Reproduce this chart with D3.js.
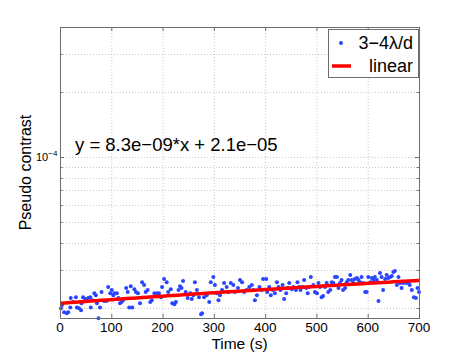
<!DOCTYPE html>
<html>
<head>
<meta charset="utf-8">
<script src="https://cdn.jsdelivr.net/npm/d3@7"></script>
<style>
  body { margin: 0; background: #fff; }
  text { font-family: "Liberation Sans", Arial, sans-serif; }
</style>
</head>
<body>
<svg id="chart"></svg>
<script>
// measured points: time (s) and pseudo contrast (in units of 1e-5)
const times = [2,4,8,13,16,20,21,26,31,33,37,41,42,45,49,52,55,59,60,63,67,70,72,75,78,81,86,91,94,98,
  101,104,106,111,114,117,120,123,129,132,135,138,141,145,148,152,156,160,164,167,171,176,179,184,189,193,197,199,
  203,208,211,216,219,223,226,231,234,237,240,245,249,254,257,260,263,267,271,275,277,281,286,291,294,299,
  302,306,309,312,316,320,325,328,333,338,341,347,351,355,359,364,369,374,377,380,384,389,393,396,
  402,404,408,411,415,419,423,426,430,434,437,441,444,447,452,455,460,463,466,469,473,476,480,483,486,489,494,497,
  501,504,507,510,513,517,520,523,527,530,533,536,540,543,546,549,552,556,559,562,566,569,572,575,579,582,585,588,591,595,598,
  601,605,608,611,614,618,621,624,627,630,634,637,640,644,647,650,653,657,660,663,666,669,673,676,679,682,686,690,694,697,700];
const contrastE5 = [1.99,2.06,1.91,1.89,1.91,2.01,2.22,2.13,2.24,2.01,1.99,1.95,2.10,2.24,2.20,2.15,2.22,2.24,2.01,2.17,2.34,2.29,2.10,1.79,2.01,2.37,2.15,2.15,2.50,2.34,
  2.42,2.29,2.34,2.34,2.22,2.10,2.13,2.17,2.47,2.37,2.01,2.52,2.01,2.44,2.37,2.34,2.10,2.63,2.55,2.37,2.42,2.13,2.17,2.34,2.34,2.34,2.24,2.50,
  2.72,2.63,2.37,2.44,2.10,2.08,2.13,2.42,2.52,2.47,2.66,2.37,2.22,2.34,2.20,2.29,2.63,2.42,2.24,1.87,1.89,2.24,2.29,2.13,2.63,2.78,
  2.55,2.34,2.17,2.29,2.42,2.61,2.50,2.37,2.61,2.55,2.37,2.47,2.69,2.63,2.37,2.42,2.50,2.55,2.42,2.17,2.29,2.50,2.42,2.72,
  2.72,2.37,2.50,2.29,2.42,2.34,2.63,2.50,2.42,2.55,2.20,2.34,2.47,2.61,2.44,2.50,2.42,2.63,2.50,2.42,2.50,2.69,2.47,2.34,2.50,2.78,2.55,2.37,
  2.34,2.61,2.50,2.24,2.27,2.50,2.61,2.37,2.42,2.63,2.61,2.78,2.78,2.47,2.61,2.69,2.42,2.47,2.63,2.69,2.84,2.69,2.61,2.72,2.75,2.69,2.63,2.78,2.61,2.37,2.37,
  2.78,2.63,2.75,2.69,2.78,2.69,2.15,2.90,2.78,2.42,2.72,2.84,2.75,2.78,2.81,2.93,2.96,2.55,2.78,2.61,2.47,2.61,2.63,2.61,2.63,2.55,2.42,2.24,2.22,2.47,2.37];

const fitSlope = 8.3e-9;
const fitIntercept = 2.1e-5;
const xTicks = [0, 100, 200, 300, 400, 500, 600, 700];
const yMinorTicks = [2e-5, 3e-5, 4e-5, 5e-5, 6e-5, 7e-5, 8e-5, 9e-5, 1e-4, 2e-4, 3e-4, 4e-4];
const yDomain = [1.795e-5, 4e-4];
const legendLabels = ["3\u22124\u03bb/d", "linear"];
const equationLabel = "y = 8.3e\u221209*x + 2.1e\u221205";

const W = 463, H = 359;
const margin = { left: 60, right: 44, top: 27, bottom: 41 };
const iw = W - margin.left - margin.right;
const ih = H - margin.top - margin.bottom;

const svg = d3.select("#chart").attr("width", W).attr("height", H);
const g = svg.append("g").attr("transform", `translate(${margin.left},${margin.top})`);

const x = d3.scaleLinear().domain([0, 700]).range([0, iw]);
const y = d3.scaleLog().domain(yDomain).range([ih, 0]);

// grid
const gridColor = "#c8c8c8";
g.append("g").selectAll("line").data(xTicks.slice(1, -1)).join("line")
  .attr("x1", d => x(d) + 0.5).attr("x2", d => x(d) + 0.5)
  .attr("y1", 0).attr("y2", ih)
  .attr("stroke", gridColor).attr("stroke-dasharray", "1,2");
g.append("g").selectAll("line").data(yMinorTicks.filter(d => d < yDomain[1])).join("line")
  .attr("x1", 0).attr("x2", iw)
  .attr("y1", d => Math.round(y(d)) + 0.5).attr("y2", d => Math.round(y(d)) + 0.5)
  .attr("stroke", gridColor).attr("stroke-dasharray", "1,2");

// data
const pts = times.map((t, i) => ({ t, v: contrastE5[i] * 1e-5 }));
g.append("g").selectAll("circle").data(pts).join("circle")
  .attr("cx", d => x(d.t)).attr("cy", d => y(d.v)).attr("r", 2)
  .attr("fill", "#2a45ff");

// fit
const fitX = d3.range(0, 701, 10);
g.append("path")
  .datum(fitX)
  .attr("fill", "none").attr("stroke", "#ff0000").attr("stroke-width", 3.5)
  .attr("d", d3.line().x(d => x(d)).y(d => y(fitSlope * d + fitIntercept)));

// axes box
const axisColor = "#6e6e6e";
g.append("rect").attr("x", 0.5).attr("y", 0.5).attr("width", iw).attr("height", ih)
  .attr("fill", "none").attr("stroke", axisColor);

// ticks (inward, MATLAB style)
const tickLen = 4;
const xt = g.append("g");
xTicks.forEach(d => {
  xt.append("line").attr("x1", x(d) + 0.5).attr("x2", x(d) + 0.5).attr("y1", ih).attr("y2", ih - tickLen).attr("stroke", axisColor);
  xt.append("line").attr("x1", x(d) + 0.5).attr("x2", x(d) + 0.5).attr("y1", 0).attr("y2", tickLen).attr("stroke", axisColor);
});
g.append("g").selectAll("text").data(xTicks).join("text")
  .attr("x", d => x(d)).attr("y", ih + 14)
  .attr("text-anchor", "middle").attr("font-size", 13.5).attr("fill", "#000")
  .text(d => d);

const yt = g.append("g");
yMinorTicks.forEach(d => {
  const yy = Math.round(y(d)) + 0.5;
  const len = d === 1e-4 ? tickLen : 2.5;
  yt.append("line").attr("x1", 0).attr("x2", len).attr("y1", yy).attr("y2", yy).attr("stroke", axisColor);
  yt.append("line").attr("x1", iw).attr("x2", iw - len).attr("y1", yy).attr("y2", yy).attr("stroke", axisColor);
});
const yl = g.append("text").attr("x", -24).attr("y", y(1e-4) + 4)
  .attr("font-size", 11).attr("fill", "#000");
yl.append("tspan").text("10");
yl.append("tspan").attr("dy", -5).attr("font-size", 8).text("\u22124");

// axis labels
svg.append("text").attr("x", margin.left + iw / 2).attr("y", H - 10)
  .attr("text-anchor", "middle").attr("font-size", 15.5).text("Time (s)");
svg.append("text")
  .attr("transform", `translate(31,${margin.top + ih / 2}) rotate(-90)`)
  .attr("text-anchor", "middle").attr("font-size", 16).text("Pseudo contrast");

// equation
svg.append("text").attr("x", 75).attr("y", 151).attr("font-size", 18.5).text(equationLabel);

// legend
const lg = svg.append("g").attr("transform", "translate(328,29)");
lg.append("rect").attr("x", 0.5).attr("y", 0.5).attr("width", 90).attr("height", 48)
  .attr("fill", "#fff").attr("stroke", axisColor);
lg.append("circle").attr("cx", 13).attr("cy", 14).attr("r", 2).attr("fill", "#2a45ff");
lg.append("text").attr("x", 85).attr("y", 20).attr("text-anchor", "end").attr("font-size", 18).text(legendLabels[0]);
lg.append("line").attr("x1", 4).attr("x2", 23).attr("y1", 37).attr("y2", 37)
  .attr("stroke", "#ff0000").attr("stroke-width", 3.5);
lg.append("text").attr("x", 85).attr("y", 43).attr("text-anchor", "end").attr("font-size", 18).text(legendLabels[1]);
</script>
</body>
</html>
